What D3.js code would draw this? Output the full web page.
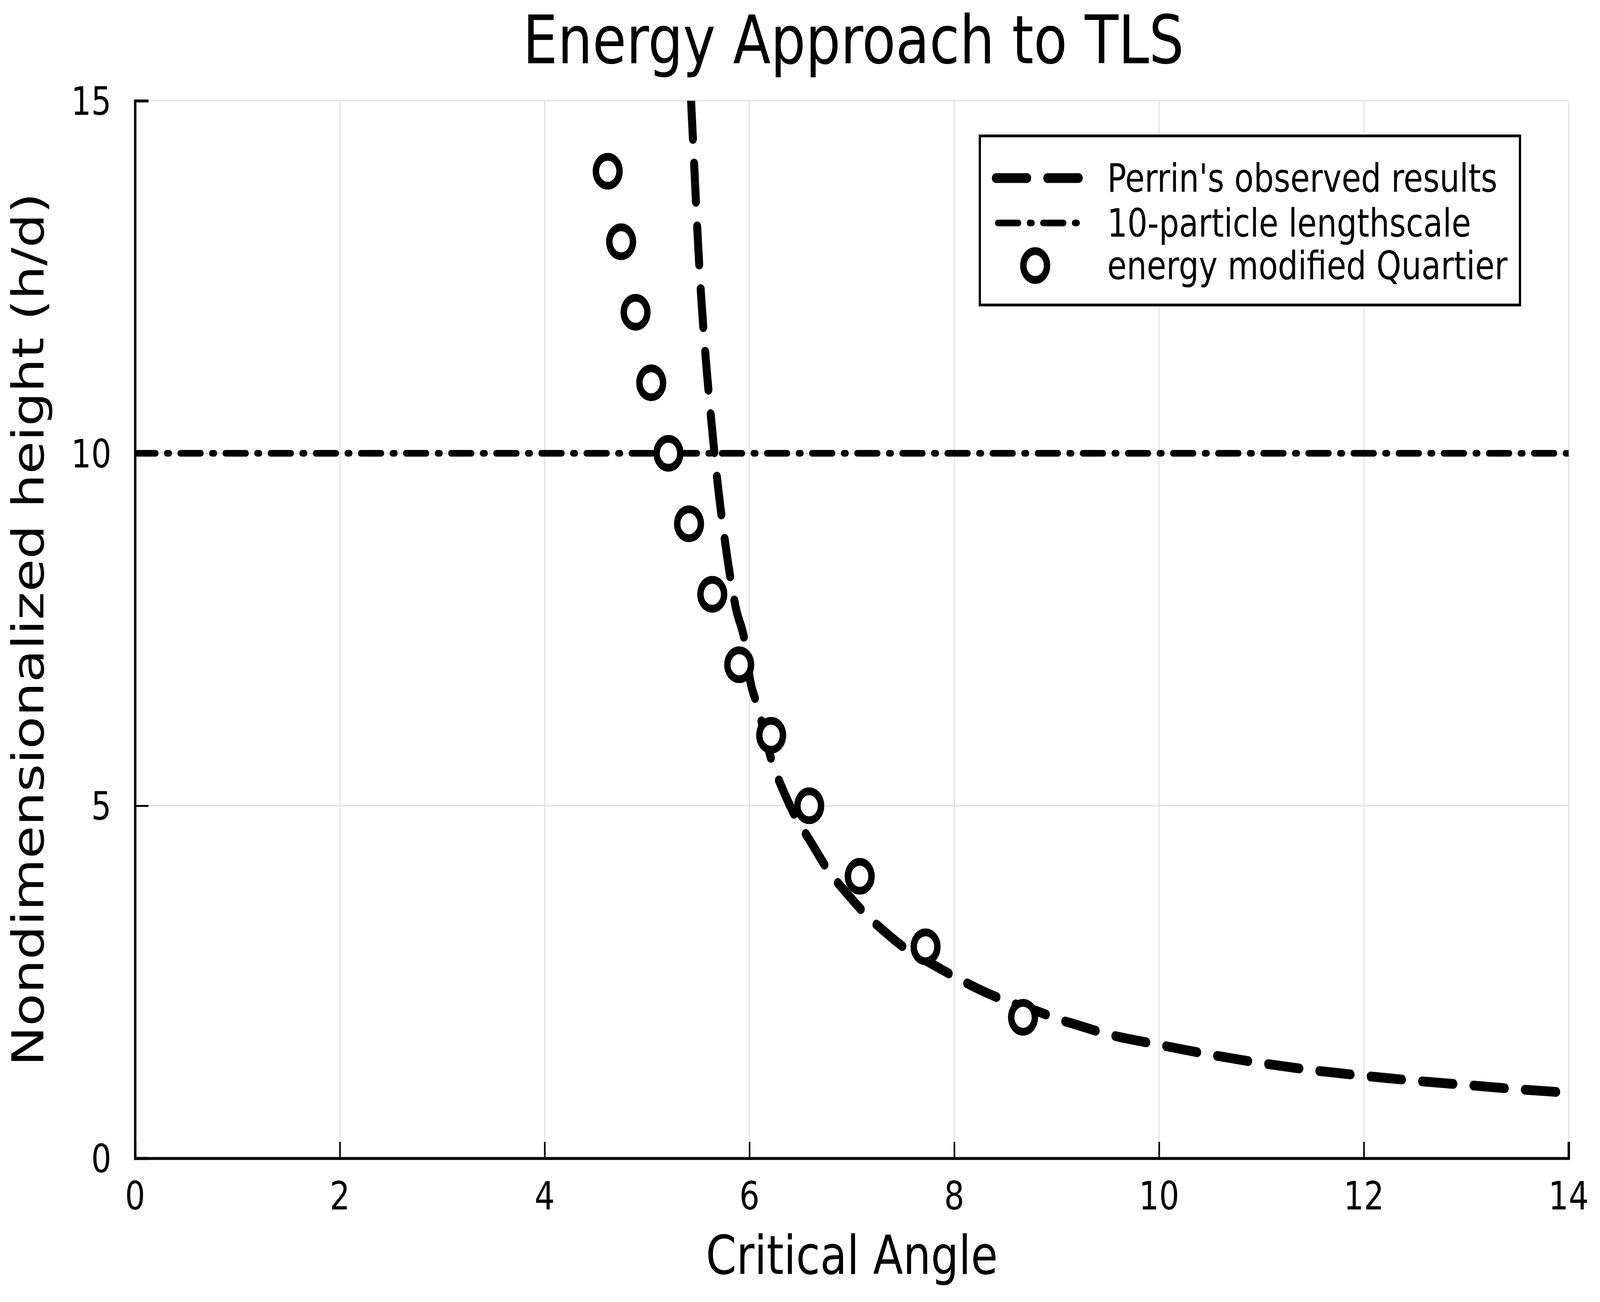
<!DOCTYPE html>
<html>
<head>
<meta charset="utf-8">
<script src="https://cdn.jsdelivr.net/npm/d3@7"></script>
<style>
  html, body { margin: 0; padding: 0; background: #fff; overflow: hidden; }
  svg { display: block; width: 100vw; height: 100vh; }
  text { font-family: "DejaVu Sans", sans-serif; fill: #000; }
</style>
</head>
<body>
<script>
const perrinAngle = [5.43, 5.46, 5.49, 5.525, 5.57, 5.625, 5.685, 5.765, 5.865, 5.96, 6.0, 6.08, 6.235, 6.32, 6.47,
    6.585, 6.8, 6.92, 7.17, 7.3, 7.57, 7.74, 8.05, 8.21, 8.51, 8.84, 9.0, 9.18, 9.5, 10.0, 10.5, 11.0, 11.5,
    12.0, 12.5, 13.0, 13.5, 14.0];
const perrinHeight = [15.0, 14.1, 13.2, 12.3, 11.4, 10.5, 9.63, 8.71, 7.82, 7.28, 6.84, 6.41, 5.56, 5.25, 4.79,
    4.52, 4.02, 3.81, 3.41, 3.24, 2.93, 2.79, 2.54, 2.42, 2.23, 2.07, 1.98, 1.90, 1.76, 1.61, 1.47, 1.35, 1.25,
    1.17, 1.10, 1.04, 0.98, 0.93];

// 10-particle lengthscale
const lengthscaleHeight = 10;

// energy modified Quartier (open circles)
const quartierAngle = [4.616, 4.747, 4.888, 5.041, 5.209, 5.41, 5.637, 5.90, 6.212, 6.584, 7.077, 7.72, 8.672];
const quartierHeight = [14, 13, 12, 11, 10, 9, 8, 7, 6, 5, 4, 3, 2];

const xTicks = [0, 2, 4, 6, 8, 10, 12, 14];
const yTicks = [0, 5, 10, 15];
const seriesNames = ["Perrin's observed results", "10-particle lengthscale", "energy modified Quartier"];

const WIDTH = 5000, HEIGHT = 3334;
const margin = { left: 422, right: 98, top: 258, bottom: 368 };
const TICK_FONT = 99, GUIDE_FONT = 137, TITLE_FONT = 172;

// the drawing is laid out in a 5000x3334 box and fills the window whatever its size
const svg = d3.select("body").append("svg")
    .attr("viewBox", `0 0 ${WIDTH} ${HEIGHT}`)
    .attr("preserveAspectRatio", "none");

svg.append("rect").attr("width", WIDTH).attr("height", HEIGHT).attr("fill", "#fff");

const x = d3.scaleLinear().domain([0, 14]).range([margin.left, WIDTH - margin.right]);
const y = d3.scaleLinear().domain([0, 15]).range([HEIGHT - margin.bottom, margin.top]);

// grid
svg.append("g").selectAll("line")
    .data(xTicks).enter().append("line")
    .attr("x1", d => x(d)).attr("x2", d => x(d))
    .attr("y1", y(0)).attr("y2", y(15))
    .attr("stroke", "#e5e5e5").attr("stroke-width", 4);
svg.append("g").selectAll("line")
    .data(yTicks).enter().append("line")
    .attr("x1", x(0)).attr("x2", x(14))
    .attr("y1", d => y(d)).attr("y2", d => y(d))
    .attr("stroke", "#e5e5e5").attr("stroke-width", 4);

// axes: ticks point inward, labels drawn separately
const xAxis = svg.append("g")
    .attr("transform", `translate(0, ${y(0)})`)
    .call(d3.axisTop(x).tickValues(xTicks).tickSize(42).tickFormat(""));
const yAxis = svg.append("g")
    .attr("transform", `translate(${x(0)}, 0)`)
    .call(d3.axisRight(y).tickValues(yTicks).tickSize(42).tickFormat(""));
[xAxis, yAxis].forEach(a => {
    a.select(".domain").attr("stroke", "#000").attr("stroke-width", 7.5);
    a.selectAll(".tick line").attr("stroke", "#000").attr("stroke-width", 5);
});

svg.append("g").selectAll("text")
    .data(xTicks).enter().append("text")
    .attr("x", d => x(d))
    .attr("y", 3097)
    .attr("text-anchor", "middle")
    .style("font-size", `${TICK_FONT}px`)
    .text(d => d);
svg.append("g").selectAll("text")
    .data(yTicks).enter().append("text")
    .attr("x", 348)
    .attr("y", d => y(d) + 36)
    .attr("text-anchor", "end")
    .style("font-size", `${TICK_FONT}px`)
    .text(d => d);

// titles
svg.append("text")
    .attr("x", 2667).attr("y", 162)
    .attr("text-anchor", "middle")
    .style("font-size", `${TITLE_FONT}px`)
    .text("Energy Approach to TLS");
svg.append("text")
    .attr("x", (x(0) + x(14)) / 2).attr("y", 3262)
    .attr("text-anchor", "middle")
    .style("font-size", `${GUIDE_FONT}px`)
    .text("Critical Angle");
svg.append("text")
    .attr("transform", `translate(135, ${(y(0) + y(15)) / 2}) rotate(-90)`)
    .attr("text-anchor", "middle")
    .style("font-size", `${GUIDE_FONT}px`)
    .text("Nondimensionalized height (h/d)");

// series
svg.append("clipPath").attr("id", "plot-area")
    .append("rect")
    .attr("x", x(0)).attr("y", y(15))
    .attr("width", x(14) - x(0)).attr("height", y(0) - y(15));

const plot = svg.append("g").attr("clip-path", "url(#plot-area)");

const DASH = { width: 25, array: "98,63" };
const DASHDOT = { width: 17, array: "65,34,8,34" };

const line = d3.line()
    .x(d => x(d[0]))
    .y(d => y(d[1]))
    .curve(d3.curveMonotoneX);

plot.append("path")
    .datum(d3.zip(perrinAngle, perrinHeight))
    .attr("d", line)
    .attr("fill", "none")
    .attr("stroke", "#000")
    .attr("stroke-width", DASH.width)
    .attr("stroke-dasharray", DASH.array)
    .attr("stroke-linecap", "round")
    .attr("stroke-linejoin", "round");

plot.append("path")
    .datum([[0, lengthscaleHeight], [14, lengthscaleHeight]])
    .attr("d", d3.line().x(d => x(d[0])).y(d => y(d[1])))
    .attr("fill", "none")
    .attr("stroke", "#000")
    .attr("stroke-width", DASHDOT.width)
    .attr("stroke-dasharray", DASHDOT.array)
    .attr("stroke-linecap", "round");

const MARKER_R = 37, MARKER_STROKE = 20;
svg.append("g").selectAll("circle")
    .data(d3.zip(quartierAngle, quartierHeight))
    .enter().append("circle")
    .attr("cx", d => x(d[0]))
    .attr("cy", d => y(d[1]))
    .attr("r", MARKER_R)
    .attr("fill", "#fff")
    .attr("stroke", "#000")
    .attr("stroke-width", MARKER_STROKE);

// legend
const legend = svg.append("g");
legend.append("rect")
    .attr("x", 3062).attr("y", 348)
    .attr("width", 1688).attr("height", 433)
    .attr("fill", "#fff")
    .attr("stroke", "#000")
    .attr("stroke-width", 7);

const rowY = [456, 571, 680];
legend.append("line")
    .attr("x1", 3112).attr("x2", 3374)
    .attr("y1", rowY[0]).attr("y2", rowY[0])
    .attr("stroke", "#000")
    .attr("stroke-width", DASH.width)
    .attr("stroke-dasharray", DASH.array)
    .attr("stroke-linecap", "round");
legend.append("line")
    .attr("x1", 3118).attr("x2", 3368)
    .attr("y1", rowY[1]).attr("y2", rowY[1])
    .attr("stroke", "#000")
    .attr("stroke-width", DASHDOT.width)
    .attr("stroke-dasharray", DASHDOT.array)
    .attr("stroke-linecap", "round");
legend.append("circle")
    .attr("cx", 3235).attr("cy", rowY[2])
    .attr("r", MARKER_R)
    .attr("fill", "#fff")
    .attr("stroke", "#000")
    .attr("stroke-width", MARKER_STROKE);

legend.selectAll("text.entry")
    .data(seriesNames).enter().append("text")
    .attr("class", "entry")
    .attr("x", 3460)
    .attr("y", (d, i) => rowY[i] + 35)
    .style("font-size", `${TICK_FONT}px`)
    .text(d => d);
</script>
</body>
</html>
